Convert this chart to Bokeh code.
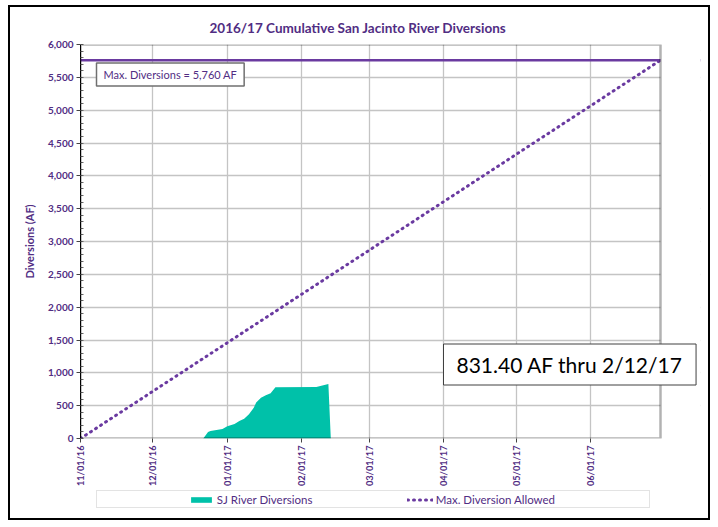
import math
from datetime import datetime

from bokeh.plotting import figure
from bokeh.layouts import column, row
from bokeh.models import (Range1d, Span, Label, Legend, LegendItem, BoxAnnotation,
                          NumeralTickFormatter, SingleIntervalTicker, FixedTicker,
                          DatetimeTickFormatter, Spacer)
from bokeh.embed import file_html
from bokeh.resources import INLINE

# ---------------- data ----------------
TITLE = "2016/17 Cumulative San Jacinto River Diversions"
Y_LABEL = "Diversions (AF)"

div_dates = ["2016-11-01", "2016-12-22", "2016-12-24", "2016-12-25", "2016-12-30",
             "2017-01-01", "2017-01-04", "2017-01-06", "2017-01-08", "2017-01-10",
             "2017-01-12", "2017-01-13", "2017-01-15", "2017-01-17", "2017-01-19",
             "2017-01-21", "2017-02-07", "2017-02-12", "2017-02-13"]
div_values = [0, 0, 100, 115, 145,
              185, 220, 265, 300, 370,
              470, 550, 620, 660, 690,
              780, 785, 831.4, 0]

allowed_dates = ["2016-11-01", "2017-06-30"]
allowed_values = [0, 5760]
MAX_DIVERSIONS = 5760

month_ticks = ["2016-11-01", "2016-12-01", "2017-01-01", "2017-02-01",
               "2017-03-01", "2017-04-01", "2017-05-01", "2017-06-01"]
X_START, X_END = "2016-11-01", "2017-06-30"
Y_MAX = 6000
Y_STEP = 500

legend_labels = ["SJ River Diversions", "Max. Diversion Allowed"]
max_text = "Max. Diversions = 5,760 AF"
note_text = "831.40 AF thru 2/12/17"

# ---------------- style ----------------
PURPLE_TEXT = "#512d83"
PURPLE_LINE = "#6a3aa0"
TEAL = "#00c1a9"
GRID = "#c4c4c4"
FONT = "Lato"
NB = "\u00a0"

CHART_W = 580          # pixels of the chart area (Nov 1 .. Jun 30)
FRAME_W, FRAME_H = 620, 394   # frame is a bit wider to leave room for the note box


def d(s):
    return datetime.strptime(s, "%Y-%m-%d")


def ms(s):
    return (d(s) - datetime(1970, 1, 1)).total_seconds() * 1000.0


x0, x_chart_end = ms(X_START), ms(X_END)
MS_PER_PX = (x_chart_end - x0) / CHART_W
x1 = x0 + FRAME_W * MS_PER_PX


def sx(px):  # frame pixel -> data x
    return x0 + px * MS_PER_PX


def sy(py):  # frame pixel (up from bottom) -> data y
    return py / FRAME_H * Y_MAX


p = figure(width=702, height=483, x_axis_type="datetime",
           x_range=Range1d(x0, x1), y_range=Range1d(0, Y_MAX),
           output_backend="svg", toolbar_location=None,
           min_border_left=70, min_border_right=12,
           min_border_top=37, min_border_bottom=52)
p.styles = {"border": "2px solid black", "border-bottom": "none"}

p.title.text = TITLE
p.title.align = "left"
p.title.offset = 129
p.title.text_font = FONT
p.title.text_font_size = "13.5px"
p.title.text_font_style = "bold"
p.title.text_color = PURPLE_TEXT
p.title.standoff = 18

p.outline_line_color = None
p.background_fill_color = "white"
p.border_fill_color = "white"

# axes
p.xaxis.ticker = FixedTicker(ticks=[ms(t) for t in month_ticks])
fmt = "%m/%d/%y"
p.xaxis.formatter = DatetimeTickFormatter(days=fmt, months=fmt, years=fmt)
p.xaxis.major_label_orientation = math.pi / 2
p.yaxis.ticker = SingleIntervalTicker(interval=Y_STEP, num_minor_ticks=5)
p.yaxis.formatter = NumeralTickFormatter(format="0,0")
p.yaxis.axis_label = Y_LABEL
for ax in (p.xaxis[0], p.yaxis[0]):
    ax.major_label_text_font = FONT
    ax.major_label_text_font_size = "10px"
    ax.major_label_text_font_style = "bold"
    ax.major_label_text_color = PURPLE_TEXT
    ax.axis_line_color = "black"
    ax.major_tick_line_color = "#444444"
    ax.major_tick_in = 0
    ax.major_tick_out = 4
    ax.major_label_standoff = 3
p.xaxis.major_label_text_font_size = "9.2px"
p.xaxis.axis_line_color = None
p.yaxis.minor_tick_in = 3
p.yaxis.minor_tick_out = 0
p.yaxis.minor_tick_line_color = "#666666"
p.yaxis.axis_label_text_font = FONT
p.yaxis.axis_label_text_font_size = "11px"
p.yaxis.axis_label_text_font_style = "bold"
p.yaxis.axis_label_text_color = PURPLE_TEXT
p.yaxis.axis_label_standoff = 9

p.xgrid.grid_line_color = GRID
p.ygrid.grid_line_color = GRID
p.xgrid.grid_line_width = 1.3
p.ygrid.grid_line_width = 1.3

# data marks
AREA_STYLE = dict(fill_color=TEAL)
LINE_STYLE = dict(line_color=PURPLE_LINE, line_width=3, line_dash="1 5", line_cap="round")
area_x = [d(s) for s in div_dates]
line_x = [d(s) for s in allowed_dates]
p.varea(x=area_x, y1=[0] * len(div_values), y2=div_values, **AREA_STYLE)
p.line(x=line_x, y=allowed_values, **LINE_STYLE)

p.add_layout(Span(location=MAX_DIVERSIONS, dimension="width",
                  line_color=PURPLE_LINE, line_width=2.5))

# white area right of the chart, and the chart border
p.add_layout(BoxAnnotation(left=x_chart_end, fill_color="white", fill_alpha=1,
                           line_color=None))
p.add_layout(BoxAnnotation(left=x0, right=x_chart_end, bottom=0, top=Y_MAX,
                           fill_alpha=0, line_color="black", line_width=2.5))

# annotation boxes (padding = (horizontal, vertical); anchor is the box edge)
p.add_layout(Label(x=sx(16), y=sy(364), text=max_text, text_align="left",
                   text_baseline="middle", text_font=FONT, text_font_size="11px",
                   text_color=PURPLE_TEXT, background_fill_color="white",
                   border_line_color="#707070", border_line_width=1.5,
                   padding=(7, 5)))
p.add_layout(Label(x=sx(363), y=sy(74), text=note_text, text_align="left",
                   text_baseline="middle", text_font=FONT, text_font_size="21px",
                   text_color="black", background_fill_color="white",
                   border_line_color="#404040", border_line_width=1,
                   padding=(13, 8)))

# ---------------- legend strip ----------------
# the legend proxies hold the same data but lie outside this strip's (0..1) ranges
lg = figure(width=702, height=32, x_range=Range1d(0, 1), y_range=Range1d(0, 1),
            output_backend="svg", toolbar_location=None,
            x_axis_location=None, y_axis_location=None, min_border=0)
lg.styles = {"border": "2px solid black", "border-top": "none"}
lg.outline_line_color = None
lg.grid.visible = False
lg_area = lg.varea(x=area_x, y1=[0] * len(div_values), y2=div_values, **AREA_STYLE)
lg_line = lg.line(x=line_x, y=allowed_values, **LINE_STYLE)
lg_blank = lg.varea(x=area_x, y1=[0] * len(div_values), y2=div_values, fill_alpha=0)

legend = Legend(items=[LegendItem(label=NB * 21, renderers=[lg_blank]),
                       LegendItem(label=legend_labels[0] + NB * 32, renderers=[lg_area]),
                       LegendItem(label=legend_labels[1] + NB * 32, renderers=[lg_line])],
                location=(16, 12), orientation="horizontal",
                border_line_color="#c8c8c8", border_line_width=1,
                background_fill_color="white",
                label_text_font=FONT, label_text_font_size="11.5px",
                label_text_color=PURPLE_TEXT, glyph_width=26, glyph_height=7,
                label_height=16, label_standoff=3, spacing=0, padding=0, margin=0)
lg.add_layout(legend)

root = column(Spacer(height=5), row(Spacer(width=8), column(p, lg)))

open("out.html", "w").write(file_html(root, INLINE))
